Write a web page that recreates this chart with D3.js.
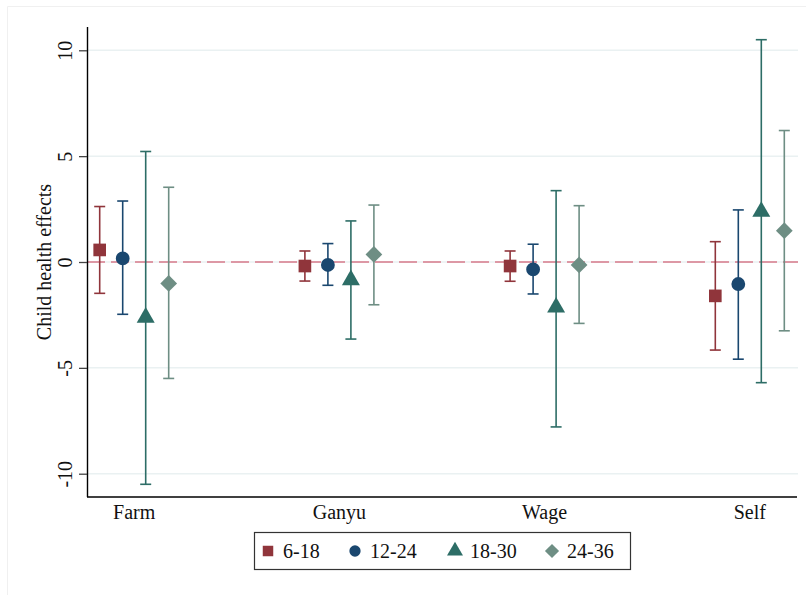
<!DOCTYPE html>
<html>
<head>
<meta charset="utf-8">
<script src="https://cdn.jsdelivr.net/npm/d3@7"></script>
<style>
  body { margin: 0; background: #fff; }
  svg { display: block; }
</style>
</head>
<body>
<svg id="chart" width="806" height="595"></svg>
<script>
// data
var categories = ["Farm", "Ganyu", "Wage", "Self"];
var seriesNames = ["6-18", "12-24", "18-30", "24-36"];
var seriesColors = ["#90353b", "#1a476f", "#2d6d66", "#6e8e84"];

// point estimates, one array per series (order of categories)
var est_6_18  = [0.57, -0.19, -0.19, -1.60];
var est_12_24 = [0.17, -0.14, -0.35, -1.04];
var est_18_30 = [-2.62, -0.85, -2.14, 2.38];
var est_24_36 = [-1.01, 0.36, -0.14, 1.48];

var lo_6_18  = [-1.48, -0.90, -0.91, -4.16];
var hi_6_18  = [2.62, 0.52, 0.52, 0.96];
var lo_12_24 = [-2.47, -1.10, -1.51, -4.59];
var hi_12_24 = [2.88, 0.87, 0.84, 2.46];
var lo_18_30 = [-10.50, -3.64, -7.79, -5.70];
var hi_18_30 = [5.22, 1.94, 3.37, 10.50];
var lo_24_36 = [-5.50, -2.02, -2.90, -3.25];
var hi_24_36 = [3.53, 2.69, 2.66, 6.21];

var yTicks = [-10, -5, 0, 5, 10];

var estimates = [est_6_18, est_12_24, est_18_30, est_24_36];
var lows = [lo_6_18, lo_12_24, lo_18_30, lo_24_36];
var highs = [hi_6_18, hi_12_24, hi_18_30, hi_24_36];

var FONT = "'Liberation Serif', 'Times New Roman', serif";

// marker shape per series: square, circle, triangle, diamond (square turned 45deg)
function marker(s, size) {
  var types = [d3.symbolSquare, d3.symbolCircle, d3.symbolTriangle, d3.symbolSquare];
  return d3.symbol().type(types[s]).size(size)();
}
var markerRot = [0, 0, 0, 45];

var svg = d3.select("#chart").attr("font-family", FONT);
var margin = {left: 87, right: 797, top: 27, bottom: 497};

// faint outer frame edge
svg.append("path")
  .attr("d", "M7.5,595 V6.5 H806")
  .attr("fill", "none")
  .attr("stroke", "#f0f0f0");

var y = d3.scaleLinear().domain([-11.1, 11.1]).range([margin.bottom, margin.top]);
var x = d3.scalePoint().domain(categories).range([margin.left, margin.right]).padding(0.23);
var offset = d3.scaleBand().domain(seriesNames).range([-46, 46]);

// gridlines
svg.append("g").selectAll("line").data(yTicks).join("line")
  .attr("x1", margin.left).attr("x2", margin.right + 1)
  .attr("y1", d => y(d)).attr("y2", d => y(d))
  .attr("stroke", "#eaf1f2").attr("stroke-width", 1.5);

// zero reference line
svg.append("line")
  .attr("x1", margin.left).attr("x2", margin.right + 1)
  .attr("y1", y(0)).attr("y2", y(0))
  .attr("stroke", "#d77a8a").attr("stroke-width", 1.4)
  .attr("stroke-dasharray", "18,6");

// y axis (plain hyphen for negatives, like the original)
var yAxis = svg.append("g")
  .attr("transform", "translate(" + margin.left + ",0)")
  .call(d3.axisLeft(y).tickValues(yTicks).tickSize(8).tickPadding(6).tickFormat(d => String(d)))
  .attr("font-family", FONT);
yAxis.select(".domain").attr("d", "M0.5," + margin.top + "V" + margin.bottom).attr("stroke", "#000").attr("stroke-width", 1.4);
yAxis.selectAll(".tick line").attr("stroke", "#444").attr("stroke-width", 1.3);
yAxis.selectAll(".tick text")
  .attr("font-size", 20).attr("fill", "#111")
  .attr("transform", "rotate(-90)")
  .attr("x", 0).attr("y", -15)
  .attr("dy", 0)
  .attr("text-anchor", "middle");

// x axis line
svg.append("line")
  .attr("x1", margin.left).attr("x2", margin.right)
  .attr("y1", margin.bottom).attr("y2", margin.bottom)
  .attr("stroke", "#000").attr("stroke-width", 1.4);

svg.append("g").selectAll("text").data(categories).join("text")
  .attr("x", d => x(d)).attr("y", 519)
  .attr("text-anchor", "middle")
  .attr("font-size", 20).attr("fill", "#111")
  .text(d => d);

// axis title
svg.append("text")
  .attr("transform", "translate(51," + y(0) + ") rotate(-90)")
  .attr("text-anchor", "middle")
  .attr("font-size", 20).attr("fill", "#111")
  .text("Child health effects");

// error bars and markers
var sizes = [160, 150, 140, 140];
seriesNames.forEach(function(name, s) {
  var g = svg.append("g").attr("class", "series");
  var color = seriesColors[s];
  var pts = categories.map(function(c, i) {
    return {cx: x(c) + offset(name) + offset.bandwidth() / 2, est: estimates[s][i], lo: lows[s][i], hi: highs[s][i]};
  });
  g.selectAll("line.bar").data(pts).join("line").attr("class", "bar")
    .attr("x1", d => d.cx).attr("x2", d => d.cx)
    .attr("y1", d => y(d.lo)).attr("y2", d => y(d.hi))
    .attr("stroke", color).attr("stroke-width", 1.6);
  ["lo", "hi"].forEach(function(k) {
    g.selectAll("line.cap-" + k).data(pts).join("line").attr("class", "cap-" + k)
      .attr("x1", d => d.cx - 5.5).attr("x2", d => d.cx + 5.5)
      .attr("y1", d => y(d[k])).attr("y2", d => y(d[k]))
      .attr("stroke", color).attr("stroke-width", 1.6);
  });
  g.selectAll("path.mk").data(pts).join("path").attr("class", "mk")
    .attr("transform", d => "translate(" + d.cx + "," + y(d.est) + ") rotate(" + markerRot[s] + ")")
    .attr("d", marker(s, sizes[s]))
    .attr("fill", color);
});

// legend
var legend = svg.append("g");
legend.append("rect")
  .attr("x", 254.5).attr("y", 532.5).attr("width", 376).attr("height", 37)
  .attr("fill", "#fff").attr("stroke", "#333").attr("stroke-width", 1.2);
var legX = [268, 355, 455, 552];
var legSizes = [110, 100, 110, 100];
seriesNames.forEach(function(name, s) {
  legend.append("path")
    .attr("transform", "translate(" + legX[s] + ",551) rotate(" + markerRot[s] + ")")
    .attr("d", marker(s, legSizes[s]))
    .attr("fill", seriesColors[s]);
  legend.append("text")
    .attr("x", legX[s] + 15).attr("y", 558)
    .attr("font-size", 20).attr("fill", "#111")
    .text(name);
});
</script>
</body>
</html>
